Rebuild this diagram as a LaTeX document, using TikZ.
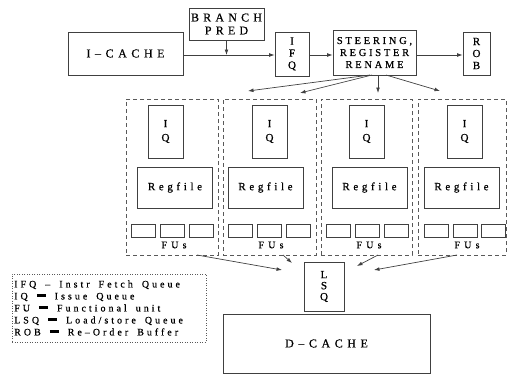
\documentclass[tikz,border=0pt]{standalone}
\usepackage{fontspec}
\setmainfont{Liberation Serif}[FakeBold=0.6]
\usetikzlibrary{arrows.meta,calc}
\newcommand{\ls}[3]{\fontsize{#1}{#2}\selectfont\addfontfeature{LetterSpace=#3}}
\newcommand{\lbar}{\rule[2.2pt]{9pt}{2.8pt}}
\begin{document}
\begin{tikzpicture}[x=1pt,y=-1pt,
  box/.style={draw=black!75,line width=0.7pt,inner sep=0pt,align=center,font=\ls{12}{13}{38}},
  clus/.style={draw=black!65,line width=0.7pt,dash pattern=on 4pt off 3pt,inner sep=0pt},
  fubox/.style={draw=black!75,line width=0.7pt,minimum width=24pt,minimum height=13pt,inner sep=0pt},
  vbox/.style={box,font=\ls{11}{12}{0}},
  iqbox/.style={vbox,minimum width=35pt,minimum height=53pt,font=\ls{11}{14}{0}},
  rfbox/.style={box,minimum width=75pt,minimum height=41pt,font=\ls{11}{13}{33}},
  lbl/.style={inner sep=0pt,font=\ls{10}{12}{42}},
  arr/.style={draw=black!75,line width=0.7pt,-{Latex[length=5.5pt,width=3.8pt]}},
  ln/.style={draw=black!75,line width=0.7pt}]
\useasboundingbox (0,0) rectangle (508,375);
% top row
\node[box,minimum width=115pt,minimum height=43pt] (icache) at (125.5,53.5) {I–CACHE};
\node[box,minimum width=75pt,minimum height=32pt,font=\ls{12}{13}{35}] (bp) at (226.5,24) {BRANCH\\PRED};
\node[vbox,minimum width=34pt,minimum height=44pt] (ifq) at (292,54) {I\\F\\Q};
\node[box,minimum width=83pt,minimum height=45pt,font=\ls{10.5}{12}{26}] (steer) at (374.5,52.5) {STEERING,\\REGISTER\\RENAME};
\node[vbox,minimum width=27pt,minimum height=43pt] (rob) at (476.5,53.5) {R\\O\\B};
\coordinate (j) at (bp.south |- 0,55);
\draw[ln] (icache.east |- 0,55) -- (j);
\draw[arr] (j) -- (ifq.west |- 0,55);
\draw[arr] (bp.south) -- (j);
\draw[arr] (ifq.east |- 0,55) -- (steer.west |- 0,55);
\draw[arr] (steer.east |- 0,55) -- (rob.west |- 0,55);
% clusters
\node[clus,minimum width=92pt,minimum height=156pt] (c1) at (172,177) {};
\node[clus,minimum width=93pt,minimum height=156pt] (c2) at (269.5,177) {};
\node[clus,minimum width=91pt,minimum height=156pt] (c3) at (366.5,177) {};
\node[clus,minimum width=88pt,minimum height=156pt] (c4) at (462,177) {};
\node[iqbox] (iq1) at (165.5,131.5) {I\\Q};
\node[iqbox] (iq2) at (269.5,131.5) {I\\Q};
\node[iqbox] (iq3) at (366.5,131.5) {I\\Q};
\node[iqbox] (iq4) at (464.5,131.5) {I\\Q};
\node[rfbox] (rf1) at (175,187.5) {Regfile};
\node[rfbox] (rf2) at (265.5,187.5) {Regfile};
\node[rfbox] (rf3) at (369.5,187.5) {Regfile};
\node[rfbox] (rf4) at (461.5,187.5) {Regfile};
\node[fubox] (f11) at (143,230.5) {};
\node[fubox] (f12) at (172,230.5) {};
\node[fubox] (f13) at (201,230.5) {};
\node[fubox] (f21) at (240,230.5) {};
\node[fubox] (f22) at (269,230.5) {};
\node[fubox] (f23) at (298,230.5) {};
\node[fubox] (f31) at (338,230.5) {};
\node[fubox] (f32) at (367,230.5) {};
\node[fubox] (f33) at (396,230.5) {};
\node[fubox] (f41) at (436,230.5) {};
\node[fubox] (f42) at (465,230.5) {};
\node[fubox] (f43) at (493,230.5) {};
\node[lbl] (fu1) at (174,245) {FUs};
\node[lbl] (fu2) at (271,245) {FUs};
\node[lbl] (fu3) at (369,245) {FUs};
\node[lbl] (fu4) at (467,245) {FUs};
% steering arrows
\coordinate (s1) at (370,75);
\coordinate (s2) at (372,75);
\coordinate (s4) at (386,75);
\coordinate (e1) at (248,91);
\coordinate (e2) at (300,93);
\coordinate (e3) at (378,93);
\coordinate (e4) at (440,91);
\draw[arr] (s1) -- (e1);
\draw[arr] (s2) -- (e2);
\draw[arr] (steer.south -| e3) -- (e3);
\draw[arr] (s4) -- (e4);
% LSQ and D-cache
\node[vbox,minimum width=40pt,minimum height=49pt,font=\ls{11}{11}{0}] (lsq) at (324,286.5) {L\\S\\Q};
\node[box,minimum width=207pt,minimum height=59pt] (dc) at (326.5,343.5) {D–CACHE};
\coordinate (t1) at (197,255);
\coordinate (t2) at (283,255);
\coordinate (t3) at (378,255);
\coordinate (t4) at (457,255);
\draw[arr] (t1) -- (282,270);
\draw[arr] (t2) -- (292,263);
\draw[arr] (t3) -- (357,266);
\draw[arr] (t4) -- (374,270);
% legend
\node[draw=black!65,line width=0.6pt,dash pattern=on 1pt off 1.5pt,minimum width=194pt,minimum height=68pt,inner sep=0pt] (leg) at (109,308) {};
\node[anchor=west,inner sep=0pt,align=left,font={\ls{10}{12}{30}\spaceskip=9pt plus 1pt}] (legt) at (14,308)
 {IFQ – Instr Fetch Queue\\IQ \lbar{} Issue Queue\\FU \lbar{} Functional unit\\LSQ \lbar{} Load/store Queue\\ROB \lbar{} Re–Order Buffer};
\end{tikzpicture}
\end{document}
